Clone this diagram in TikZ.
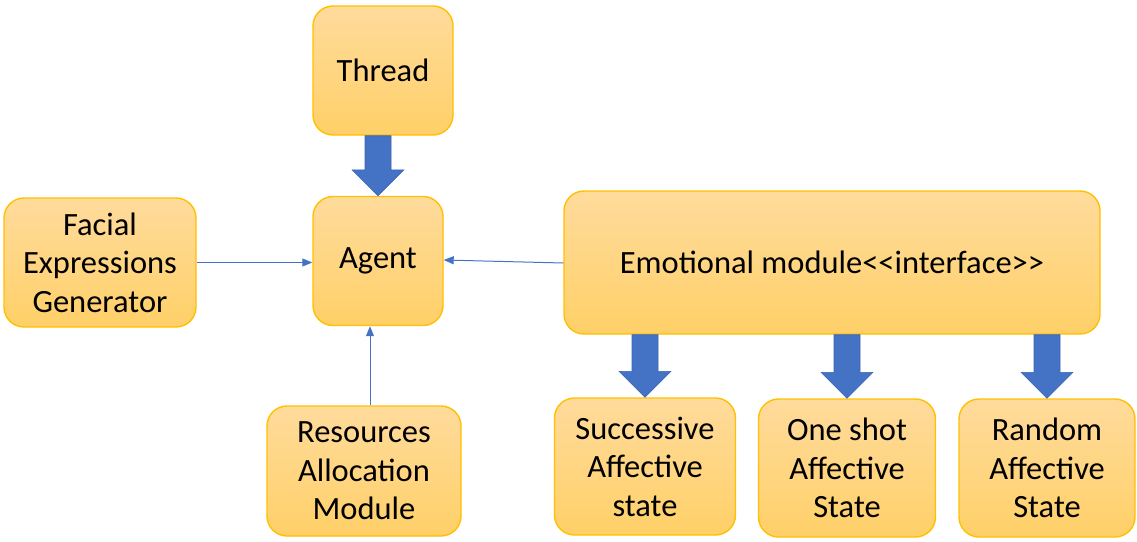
\documentclass[tikz,border=0pt]{standalone}
\usepackage{fontspec}
\setmainfont{Carlito}
\usetikzlibrary{arrows.meta,calc}
\definecolor{boxtop}{HTML}{FFDB9C}
\definecolor{boxbot}{HTML}{FFD068}
\definecolor{boxedge}{HTML}{FFC000}
\definecolor{linkblue}{HTML}{4472C4}
\definecolor{linkedge}{HTML}{3A64B0}
% broad downward arrow between two nodes: shaft starts at the source's lower edge,
% tip touches the target's upper edge, centred on the target
\newcommand\blockarrow[2]{%
  \path[fill=linkblue,draw=linkedge,line width=0.6pt,line join=miter]
    let \p1=(#1.south), \p2=(#2.north) in
    (\x2-13pt,\y1) -- (\x2+13pt,\y1) -- (\x2+13pt,\y2+26pt) -- (\x2+26pt,\y2+26pt)
    -- (\x2,\y2) -- (\x2-26pt,\y2+26pt) -- (\x2-13pt,\y2+26pt) -- cycle;}
\begin{document}
\begin{tikzpicture}[x=1pt,y=-1pt,
  box/.style={draw=boxedge,line width=1.4pt,rounded corners=20pt,
    top color=boxtop,bottom color=boxbot,align=center,inner sep=0pt,
    font=\fontsize{32.5}{38.5}\selectfont},
  link/.style={draw=linkblue,line width=1pt,-{Triangle[length=10pt,width=8pt]}}]
\useasboundingbox (0,0) rectangle (1137,541);
\node[box,minimum width=140pt,minimum height=129pt] (thread) at (383,70.5) {Thread};
\node[box,minimum width=130pt,minimum height=129pt] (agent) at (378,261) {Agent};
\node[box,minimum width=192pt,minimum height=129pt] (facial) at (100,262.5) {Facial\\Expressions\\Generator};
\node[box,minimum width=536pt,minimum height=143pt] (emo) at (832,262.5) {Emotional module<{}<interface>{}>};
\node[box,minimum width=194pt,minimum height=130pt] (res) at (364,471) {Resources\\Allocation\\Module};
\node[box,minimum width=181pt,minimum height=137pt] (succ) at (645,466.5) {Successive\\Affective\\state};
\node[box,minimum width=177pt,minimum height=138pt] (one) at (847,468) {One shot\\Affective\\State};
\node[box,minimum width=176pt,minimum height=138pt] (rand) at (1047,468) {Random\\Affective\\State};
\blockarrow{thread}{agent}
\blockarrow{emo}{succ}
\blockarrow{emo}{one}
\blockarrow{emo}{rand}
\draw[link] (facial.east) -- (facial.east -| agent.west);
\draw[link] ($(emo.west)+(0,0.5)$) -- ($(agent.east)+(0,-1)$);
\draw[link] ($(res.north)+(6,0)$) -- ($(agent.south)+(-8,0)$);
\end{tikzpicture}
\end{document}
